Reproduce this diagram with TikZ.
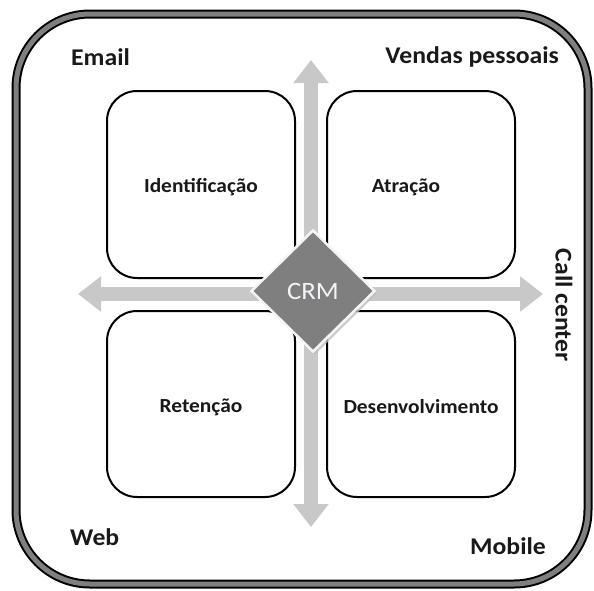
\documentclass[tikz,border=0pt]{standalone}
\usepackage{fontspec}
\setmainfont{Carlito}
\newfontfamily\lblfont{Carlito}[FakeStretch=1.07]
\usetikzlibrary{arrows.meta,shapes.geometric,shadows}
\definecolor{arrowgray}{HTML}{C8C8C8}
\definecolor{framegray}{HTML}{7F7F7F}
\definecolor{crmgray}{HTML}{7F7F7F}
\definecolor{crmtext}{HTML}{F2F4F8}
\tikzset{
  quadbox/.style={draw=black, line width=2pt, fill=white, rounded corners=30pt},
  quadlabel/.style={font=\lblfont\bfseries\fontsize{20}{24}\selectfont, text=black!90},
  cornerlabel/.style={font=\lblfont\bfseries\fontsize{24}{28}\selectfont, text=black!90, inner sep=0pt},
  bigarrow/.style={draw=arrowgray, line width=14pt,
    {Triangle[width=34pt,length=23pt]}-{Triangle[width=34pt,length=23pt]}},
  crmdiamond/.style={diamond, aspect=1, inner sep=0pt, minimum width=124pt, minimum height=122pt,
    fill=crmgray, draw=white!92!gray, line width=2.5pt,
    drop shadow={shadow xshift=2.5pt, shadow yshift=-2.5pt, fill=black!25, opacity=0.8},
    text=crmtext, font=\lblfont\fontsize{25}{28}\selectfont}
}
\begin{document}
\begin{tikzpicture}[x=1pt,y=-1pt]
\useasboundingbox (0,0) rectangle (594,590);
% outer frame
\draw[line width=9pt, black, rounded corners=74pt] (16,14) rectangle (588,584);
\draw[line width=5pt, framegray, rounded corners=74pt] (16,14) rectangle (588,584);
% quadrant boxes
\draw[quadbox] (107,91) rectangle (295,278);
\draw[quadbox] (327,91) rectangle (515,278);
\draw[quadbox] (107,311) rectangle (295,497);
\draw[quadbox] (327,311) rectangle (515,497);
\node[quadlabel] (ident) at (201,187) {Identificação};
\node[quadlabel] (atra) at (406,187) {Atração};
\node[quadlabel] (ret) at (201,407) {Retenção};
\node[quadlabel] (desen) at (421,407) {Desenvolvimento};
% arrows
\coordinate (atop) at (311,60);
\coordinate (abot) at (311,527);
\coordinate (aleft) at (78,294);
\coordinate (aright) at (543,294);
\draw[bigarrow] (atop) -- (abot);
\draw[bigarrow] (aleft) -- (aright);
% CRM diamond
\node[crmdiamond] (crm) at (313,291) {CRM};
% corner labels
\node[cornerlabel, anchor=west] (email) at (71,57) {Email};
\node[cornerlabel, anchor=east] (vendas) at (559,57) {Vendas pessoais};
\node[cornerlabel, rotate=-90] (call) at (564,305) {Call center};
\node[cornerlabel, anchor=west] (web) at (70,537) {Web};
\node[cornerlabel, anchor=east] (mobile) at (546,546) {Mobile};
\end{tikzpicture}
\end{document}
